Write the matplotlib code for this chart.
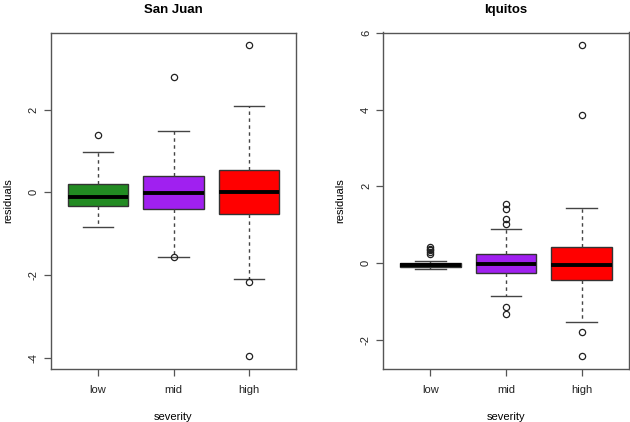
import numpy as np
import matplotlib.pyplot as plt

plt.rcParams['font.family'] = ['Liberation Sans', 'DejaVu Sans']

# severity groups
groups = ["low", "mid", "high"]
box_colors = ["#228B22", "#A020F0", "#FF0000"]

# San Juan residual summaries
sj_med = [-0.12, -0.01, 0.01]
sj_q1 = [-0.32, -0.39, -0.52]
sj_q3 = [0.21, 0.40, 0.54]
sj_whislo = [-0.84, -1.55, -2.08]
sj_whishi = [0.98, 1.48, 2.08]
sj_fliers = [[1.39], [2.78, -1.57], [3.56, -2.17, -3.95]]

# Iquitos residual summaries
iq_med = [-0.05, -0.02, -0.05]
iq_q1 = [-0.10, -0.26, -0.44]
iq_q3 = [0.01, 0.23, 0.41]
iq_whislo = [-0.17, -0.86, -1.54]
iq_whishi = [0.05, 0.89, 1.43]
iq_fliers = [[0.41, 0.37, 0.33, 0.28, 0.23],
             [1.53, 1.40, 1.15, 1.01, -1.14, -1.34],
             [5.69, 3.85, -1.81, -2.43]]


def make_stats(med, q1, q3, lo, hi, fl):
    out = []
    for i in range(len(med)):
        out.append(dict(med=med[i], q1=q1[i], q3=q3[i],
                        whislo=lo[i], whishi=hi[i], fliers=fl[i]))
    return out


def r_boxplot(ax, stats, title, yticks):
    b = ax.bxp(stats, positions=[1, 2, 3], widths=0.8, patch_artist=True,
               boxprops=dict(linewidth=1.0, edgecolor="#333333"),
               whiskerprops=dict(linestyle=(0, (2.5, 2.5)), color="#444444", linewidth=1.0),
               capprops=dict(color="#444444", linewidth=1.0),
               medianprops=dict(color="black", linewidth=2.8, solid_capstyle="butt"),
               flierprops=dict(marker="o", markersize=4.5, markerfacecolor="none",
                               markeredgecolor="#222222", markeredgewidth=0.9))
    for patch, c in zip(b["boxes"], box_colors):
        patch.set_facecolor(c)
    for cap in b["caps"]:
        xs = cap.get_xdata()
        mid = (xs[0] + xs[1]) / 2
        cap.set_xdata([mid - 0.2, mid + 0.2])
    # R style axis range: 4% padding
    allv = []
    for s in stats:
        allv += [s["whislo"], s["whishi"]] + list(s["fliers"])
    lo, hi = min(allv), max(allv)
    pad = 0.04 * (hi - lo)
    ax.set_ylim(lo - pad, hi + pad)
    ax.set_xlim(0.5 - 0.12, 3.5 + 0.12)
    ax.set_xticks([1, 2, 3])
    ax.set_xticklabels(groups)
    ax.set_yticks(yticks)
    ax.set_yticklabels([str(t) for t in yticks], rotation=90, va="center")
    ax.tick_params(direction="out", length=5, width=0.9, color="#555555",
                   labelsize=8, labelcolor="#222222", pad=4)
    ax.tick_params(axis="x", pad=7)
    for sp in ax.spines.values():
        sp.set_color("#555555")
        sp.set_linewidth(1.0)
    ax.set_title(title, fontsize=9.5, fontweight="bold", pad=14)
    ax.set_xlabel("severity", fontsize=8, labelpad=12)
    ax.set_ylabel("residuals", fontsize=8, labelpad=11)


fig = plt.figure(figsize=(6.3, 4.22), dpi=100)
ax1 = fig.add_axes([51 / 630, (422 - 368.5) / 422, 245 / 630, 336 / 422])
ax2 = fig.add_axes([383.5 / 630, (422 - 368.5) / 422, 245 / 630, 336 / 422])

r_boxplot(ax1, make_stats(sj_med, sj_q1, sj_q3, sj_whislo, sj_whishi, sj_fliers),
          "San Juan", [-4, -2, 0, 2])
r_boxplot(ax2, make_stats(iq_med, iq_q1, iq_q3, iq_whislo, iq_whishi, iq_fliers),
          "Iquitos", [-2, 0, 2, 4, 6])

fig.savefig("out.png", dpi=100)
